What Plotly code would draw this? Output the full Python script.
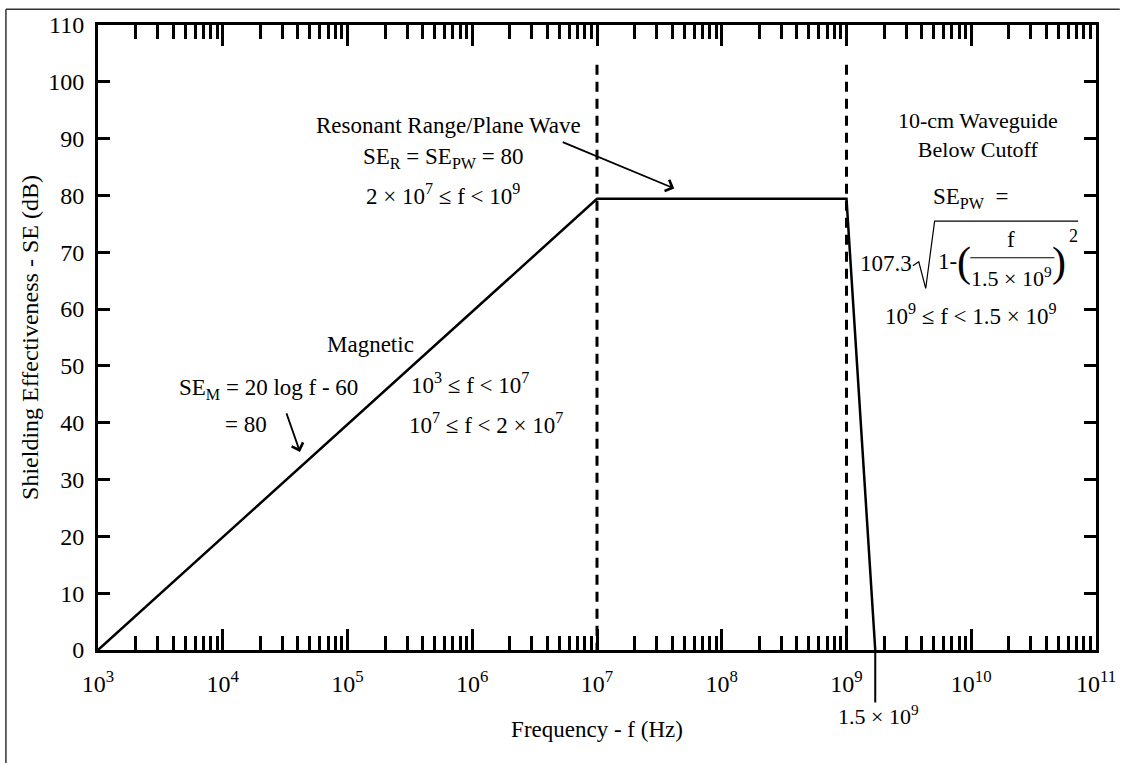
import plotly.graph_objects as go

# shielding effectiveness curve (frequency in Hz, SE in dB)
freq = [1e3, 1e7, 1e9, 1.7e9]
se = [0, 79.4, 79.4, 0]

# dashed boundaries between the regions
bound_freq = [1e7, 1e9]
bound_top = 103

decades = list(range(3, 12))
tick_vals = [10 ** d for d in decades]
tick_text = [f'10<sup>{d}</sup>' for d in decades]
minor_vals = [m * 10 ** d for d in decades[:-1] for m in range(2, 10)]

W, H = 1128, 763
L, R, T, B = 98, 1106, 19, 650


def px(x):
    return (x - L) / (R - L)


def py(y):
    return (B - y) / (B - T)


FONT = 'Liberation Serif'
FS = 23

fig = go.Figure()

fig.add_trace(go.Scatter(
    x=freq, y=se, mode='lines',
    line=dict(color='black', width=2.5),
    showlegend=False, hoverinfo='skip'
))

for f in bound_freq:
    fig.add_trace(go.Scatter(
        x=[f, f], y=[bound_top, 0], mode='lines',
        line=dict(color='black', width=3, dash='10px,7px'),
        showlegend=False, hoverinfo='skip'
    ))

# leader line from the cutoff point down to its label
fig.add_shape(type='line', xref='x', yref='paper',
              x0=freq[-1], x1=freq[-1], y0=0, y1=py(703),
              line=dict(color='black', width=2))

# page frame: only the top and left edges show
fig.add_shape(type='line', xref='paper', yref='paper',
              x0=px(5), x1=px(1130), y0=py(3), y1=py(3),
              line=dict(color='#333', width=1.5), layer='below')
fig.add_shape(type='line', xref='paper', yref='paper',
              x0=px(5), x1=px(5), y0=py(3), y1=py(790),
              line=dict(color='#333', width=1.5), layer='below')

texts = [
    ('Resonant Range/Plane Wave', 452, 120, FS),
    ('SE<sub>R</sub> = SE<sub>PW</sub> = 80', 447, 153, FS),
    ('2 × 10<sup>7</sup> ≤ f < 10<sup>9</sup>', 446, 190, FS),
    ('10-cm Waveguide<br>Below Cutoff', 987, 130, 22),
    ('SE<sub>PW</sub>  =', 979, 194, FS),
    ('10<sup>9</sup> ≤ f < 1.5 × 10<sup>9</sup>', 980, 311, FS),
    ('Magnetic', 373, 342, FS),
    ('SE<sub>M</sub> = 20 log f - 60', 270, 386, FS),
    ('= 80', 247, 422, FS),
    ('10<sup>3</sup> ≤ f < 10<sup>7</sup>', 474, 381, FS),
    ('10<sup>7</sup> ≤ f < 2 × 10<sup>7</sup>', 490, 421, FS),
    ('1.5 × 10<sup>9</sup>', 886, 716, 22),
    # square-root formula pieces
    ('107.3', 894, 260, FS),
    ('1-', 956, 258, FS),
    ('(', 973, 259, 42),
    ('f', 1020, 236, FS),
    ('1.5 × 10<sup>9</sup>', 1021, 273, 22),
    (')', 1069, 259, 42),
    ('2', 1083, 232, 18),
]
for t, x, y, s in texts:
    fig.add_annotation(text=t, x=px(x), y=py(y), xref='paper', yref='paper',
                       showarrow=False, xanchor='center', yanchor='middle',
                       font=dict(family=FONT, size=s, color='black'))

# radical sign with its overline, and the fraction bar
rad = [(921, 262), (927, 258), (934, 285), (943, 217), (1088, 217)]
path = 'M ' + ' L '.join(f'{px(x):.5f},{py(y):.5f}' for x, y in rad)
fig.add_shape(type='path', xref='paper', yref='paper', path=path,
              line=dict(color='black', width=1.2))
fig.add_shape(type='line', xref='paper', yref='paper',
              x0=px(979), x1=px(1064), y0=py(254), y1=py(254),
              line=dict(color='black', width=1.2))

# arrows
fig.add_annotation(x=px(680), y=py(184), xref='paper', yref='paper', text='',
                   showarrow=True, ax=-113, ay=-47, arrowhead=4, arrowsize=1.3,
                   arrowwidth=1.8, arrowcolor='black')
fig.add_annotation(x=px(302), y=py(450), xref='paper', yref='paper', text='',
                   showarrow=True, ax=-14, ay=-40, arrowhead=4, arrowsize=1.3,
                   arrowwidth=1.8, arrowcolor='black')

axis_common = dict(showline=True, linecolor='black', linewidth=3,
                   mirror='ticks', ticks='inside', tickcolor='black',
                   tickwidth=2.5, showgrid=False, zeroline=False,
                   tickfont=dict(family=FONT, size=24, color='black'))

fig.update_xaxes(type='log', range=[3, 11], tickmode='array',
                 tickvals=tick_vals, ticktext=tick_text, ticklen=21,
                 ticklabelstandoff=10,
                 minor=dict(tickmode='array', tickvals=minor_vals, ticks='inside',
                            ticklen=14, tickwidth=2.5, tickcolor='black', showgrid=False),
                 title=dict(text='Frequency - f (Hz)', standoff=26,
                            font=dict(family=FONT, size=23, color='black')),
                 **axis_common)
fig.update_yaxes(range=[0, 110], tickmode='linear', tick0=0, dtick=10, ticklen=12,
                 ticklabelstandoff=6,
                 title=dict(text='Shielding Effectiveness - SE (dB)', standoff=3,
                            font=dict(family=FONT, size=24, color='black')),
                 **axis_common)

fig.update_layout(
    width=W, height=H,
    margin=dict(l=L, r=W - R, t=T, b=H - B),
    paper_bgcolor='white', plot_bgcolor='white',
    showlegend=False
)

# drop the default page margin so the figure sits at the window's corner
fig.write_html('out.html', config={'displayModeBar': False},
               post_script="document.body.style.margin='0';")
